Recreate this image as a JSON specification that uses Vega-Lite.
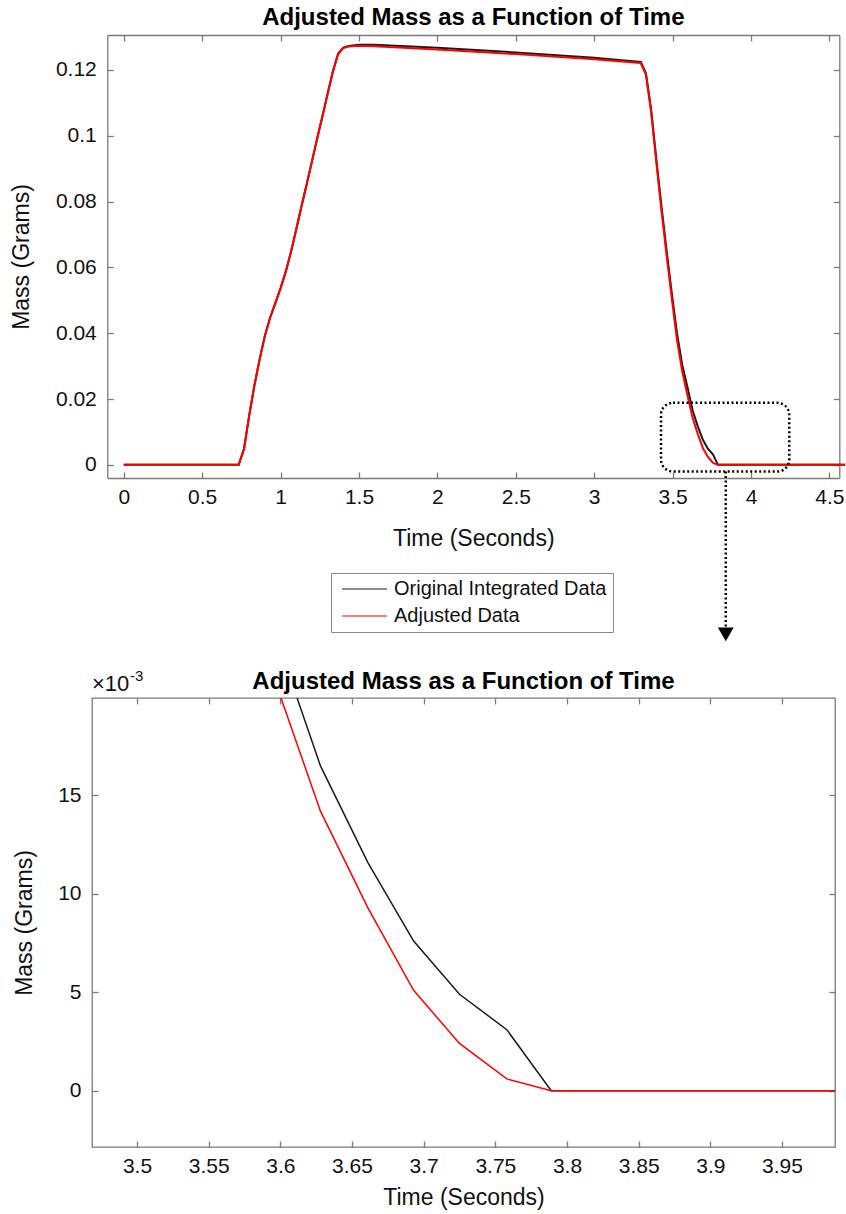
{
  "$schema": "https://vega.github.io/schema/vega-lite/v6.json",
  "background": "white",
  "padding": {"left": 10, "top": 6, "right": 0, "bottom": 0},
  "config": {
    "font": "Liberation Sans",
    "view": {"stroke": "#7a7a7a", "strokeWidth": 1.3},
    "axis": {
      "grid": false,
      "domain": false,
      "domainColor": "#7a7a7a",
      "domainWidth": 1.3,
      "tickColor": "#7a7a7a",
      "tickWidth": 1.3,
      "tickSize": -6,
      "labelFont": "Liberation Sans",
      "labelFontSize": 21,
      "labelColor": "#111111",
      "labelPadding": 17,
      "titleFont": "Liberation Sans",
      "titleFontSize": 23,
      "titleFontWeight": "normal",
      "titleColor": "#111111"
    },
    "axisX": {"labelPadding": 14},
    "title": {"font": "Liberation Sans", "fontSize": 24, "fontWeight": "bold", "color": "black", "offset": 4, "anchor": "middle"},
    "legend": {"labelFont": "Liberation Sans"}
  },
  "datasets": {
    "mass": [
      {"t": 0, "m": 0, "series": "Original Integrated Data"},
      {"t": 0.733, "m": 0, "series": "Original Integrated Data"},
      {"t": 0.767, "m": 0.0049, "series": "Original Integrated Data"},
      {"t": 0.8, "m": 0.015, "series": "Original Integrated Data"},
      {"t": 0.833, "m": 0.0241, "series": "Original Integrated Data"},
      {"t": 0.867, "m": 0.0322, "series": "Original Integrated Data"},
      {"t": 0.9, "m": 0.0392, "series": "Original Integrated Data"},
      {"t": 0.933, "m": 0.0447, "series": "Original Integrated Data"},
      {"t": 0.967, "m": 0.0492, "series": "Original Integrated Data"},
      {"t": 1.0, "m": 0.0537, "series": "Original Integrated Data"},
      {"t": 1.033, "m": 0.0587, "series": "Original Integrated Data"},
      {"t": 1.067, "m": 0.0648, "series": "Original Integrated Data"},
      {"t": 1.1, "m": 0.0716, "series": "Original Integrated Data"},
      {"t": 1.133, "m": 0.0785, "series": "Original Integrated Data"},
      {"t": 1.167, "m": 0.0853, "series": "Original Integrated Data"},
      {"t": 1.2, "m": 0.0922, "series": "Original Integrated Data"},
      {"t": 1.233, "m": 0.0991, "series": "Original Integrated Data"},
      {"t": 1.267, "m": 0.1059, "series": "Original Integrated Data"},
      {"t": 1.3, "m": 0.1128, "series": "Original Integrated Data"},
      {"t": 1.333, "m": 0.1195, "series": "Original Integrated Data"},
      {"t": 1.367, "m": 0.125, "series": "Original Integrated Data"},
      {"t": 1.4, "m": 0.1268, "series": "Original Integrated Data"},
      {"t": 1.433, "m": 0.1273, "series": "Original Integrated Data"},
      {"t": 1.5, "m": 0.1276, "series": "Original Integrated Data"},
      {"t": 1.6, "m": 0.1276, "series": "Original Integrated Data"},
      {"t": 2.0, "m": 0.1267, "series": "Original Integrated Data"},
      {"t": 2.5, "m": 0.1253, "series": "Original Integrated Data"},
      {"t": 3.0, "m": 0.1237, "series": "Original Integrated Data"},
      {"t": 3.297, "m": 0.1224, "series": "Original Integrated Data"},
      {"t": 3.33, "m": 0.119, "series": "Original Integrated Data"},
      {"t": 3.363, "m": 0.108, "series": "Original Integrated Data"},
      {"t": 3.396, "m": 0.093, "series": "Original Integrated Data"},
      {"t": 3.429, "m": 0.0785, "series": "Original Integrated Data"},
      {"t": 3.462, "m": 0.065, "series": "Original Integrated Data"},
      {"t": 3.495, "m": 0.052, "series": "Original Integrated Data"},
      {"t": 3.528, "m": 0.04, "series": "Original Integrated Data"},
      {"t": 3.561, "m": 0.0305, "series": "Original Integrated Data"},
      {"t": 3.594, "m": 0.0237, "series": "Original Integrated Data"},
      {"t": 3.628, "m": 0.0165, "series": "Original Integrated Data"},
      {"t": 3.661, "m": 0.0116, "series": "Original Integrated Data"},
      {"t": 3.693, "m": 0.0076, "series": "Original Integrated Data"},
      {"t": 3.725, "m": 0.0049, "series": "Original Integrated Data"},
      {"t": 3.758, "m": 0.0031, "series": "Original Integrated Data"},
      {"t": 3.789, "m": 0, "series": "Original Integrated Data"},
      {"t": 4.6, "m": 0, "series": "Original Integrated Data"},
      {"t": 0, "m": 0, "series": "Adjusted Data"},
      {"t": 0.733, "m": 0, "series": "Adjusted Data"},
      {"t": 0.767, "m": 0.0049, "series": "Adjusted Data"},
      {"t": 0.8, "m": 0.015, "series": "Adjusted Data"},
      {"t": 0.833, "m": 0.0241, "series": "Adjusted Data"},
      {"t": 0.867, "m": 0.0322, "series": "Adjusted Data"},
      {"t": 0.9, "m": 0.0392, "series": "Adjusted Data"},
      {"t": 0.933, "m": 0.0447, "series": "Adjusted Data"},
      {"t": 0.967, "m": 0.0492, "series": "Adjusted Data"},
      {"t": 1.0, "m": 0.0537, "series": "Adjusted Data"},
      {"t": 1.033, "m": 0.0587, "series": "Adjusted Data"},
      {"t": 1.067, "m": 0.0648, "series": "Adjusted Data"},
      {"t": 1.1, "m": 0.0716, "series": "Adjusted Data"},
      {"t": 1.133, "m": 0.0785, "series": "Adjusted Data"},
      {"t": 1.167, "m": 0.0853, "series": "Adjusted Data"},
      {"t": 1.2, "m": 0.0922, "series": "Adjusted Data"},
      {"t": 1.233, "m": 0.0991, "series": "Adjusted Data"},
      {"t": 1.267, "m": 0.1059, "series": "Adjusted Data"},
      {"t": 1.3, "m": 0.1127, "series": "Adjusted Data"},
      {"t": 1.333, "m": 0.1193, "series": "Adjusted Data"},
      {"t": 1.367, "m": 0.1248, "series": "Adjusted Data"},
      {"t": 1.4, "m": 0.1266, "series": "Adjusted Data"},
      {"t": 1.433, "m": 0.1271, "series": "Adjusted Data"},
      {"t": 1.5, "m": 0.1273, "series": "Adjusted Data"},
      {"t": 1.6, "m": 0.1272, "series": "Adjusted Data"},
      {"t": 2.0, "m": 0.1262, "series": "Adjusted Data"},
      {"t": 2.5, "m": 0.1248, "series": "Adjusted Data"},
      {"t": 3.0, "m": 0.1232, "series": "Adjusted Data"},
      {"t": 3.297, "m": 0.1221, "series": "Adjusted Data"},
      {"t": 3.33, "m": 0.1185, "series": "Adjusted Data"},
      {"t": 3.363, "m": 0.1072, "series": "Adjusted Data"},
      {"t": 3.396, "m": 0.092, "series": "Adjusted Data"},
      {"t": 3.429, "m": 0.0772, "series": "Adjusted Data"},
      {"t": 3.462, "m": 0.0635, "series": "Adjusted Data"},
      {"t": 3.495, "m": 0.0505, "series": "Adjusted Data"},
      {"t": 3.528, "m": 0.038, "series": "Adjusted Data"},
      {"t": 3.561, "m": 0.0285, "series": "Adjusted Data"},
      {"t": 3.594, "m": 0.0213, "series": "Adjusted Data"},
      {"t": 3.628, "m": 0.0142, "series": "Adjusted Data"},
      {"t": 3.661, "m": 0.0093, "series": "Adjusted Data"},
      {"t": 3.693, "m": 0.0051, "series": "Adjusted Data"},
      {"t": 3.725, "m": 0.0024, "series": "Adjusted Data"},
      {"t": 3.758, "m": 0.0006, "series": "Adjusted Data"},
      {"t": 3.789, "m": 0, "series": "Adjusted Data"},
      {"t": 4.6, "m": 0, "series": "Adjusted Data"}
    ],
    "zoombox": [
      {"t0": 3.426, "t1": 4.244, "m0": -0.00204, "m1": 0.01883, "tArrow": 3.839, "mArrowEnd": -0.0495, "mArrowTip": -0.0515}
    ],
    "exponent": [
      {"t": 3.4686, "m": 0.01995, "base": "×10", "power": "-3"}
    ]
  },
  "columns": 1,
  "spacing": 26,
  "resolve": {"legend": {"color": "independent"}},
  "concat": [
    {
      "width": 747.3,
      "height": 443,
      "view": {"stroke": null},
      "title": {"text": "Adjusted Mass as a Function of Time", "dx": 7.7},
      "data": {"name": "mass"},
      "resolve": {"axis": {"x": "independent", "y": "independent"}},
      "layer": [
        {
          "transform": [{"filter": "datum.series === 'Original Integrated Data'"}],
          "mark": {"type": "line", "strokeWidth": 2},
          "encoding": {
            "x": {"field": "t", "type": "quantitative",
              "scale": {"domain": [-0.105, 4.563], "range": [15.3, 747.3], "nice": false, "zero": false},
              "axis": {"orient": "bottom", "domain": true, "title": "Time (Seconds)", "values": [0, 0.5, 1, 1.5, 2, 2.5, 3, 3.5, 4, 4.5], "format": "~g", "titlePadding": 20}},
            "y": {"field": "m", "type": "quantitative",
              "scale": {"domain": [-0.004, 0.1306], "nice": false, "zero": false},
              "axis": {"orient": "left", "offset": -15.3, "domain": true, "title": "Mass (Grams)", "values": [0, 0.02, 0.04, 0.06, 0.08, 0.1, 0.12], "format": "~g", "titlePadding": 22}},
            "color": {"field": "series", "type": "nominal",
              "scale": {"domain": ["Original Integrated Data", "Adjusted Data"], "range": ["#1a1a1a", "#ff0000"]},
              "legend": {"orient": "none", "legendX": 239, "legendY": 538, "title": null, "symbolType": "M-1,0H8", "symbolSize": 100, "symbolStrokeWidth": 1.2, "labelFontSize": 20, "labelLimit": 0, "labelColor": "#111111", "labelOffset": 37, "padding": 6, "strokeColor": "#888888", "fillColor": "white", "rowPadding": 7}}
          }
        },
        {
          "transform": [{"filter": "datum.series === 'Adjusted Data'"}],
          "mark": {"type": "line", "strokeWidth": 2},
          "encoding": {
            "x": {"field": "t", "type": "quantitative",
              "axis": {"orient": "top", "domain": true, "title": null, "labels": false, "values": [0, 0.5, 1, 1.5, 2, 2.5, 3, 3.5, 4, 4.5]}},
            "y": {"field": "m", "type": "quantitative",
              "axis": {"orient": "right", "domain": true, "title": null, "labels": false, "values": [0, 0.02, 0.04, 0.06, 0.08, 0.1, 0.12]}},
            "color": {"field": "series", "type": "nominal"}
          }
        },
        {
          "data": {"name": "zoombox"},
          "mark": {"type": "rect", "fillOpacity": 0, "stroke": "black", "strokeWidth": 2.5, "strokeDash": [2, 2.5], "cornerRadius": 12},
          "encoding": {
            "x": {"field": "t0", "type": "quantitative", "axis": null},
            "x2": {"field": "t1"},
            "y": {"field": "m0", "type": "quantitative", "axis": null},
            "y2": {"field": "m1"}
          }
        },
        {
          "data": {"name": "zoombox"},
          "mark": {"type": "rule", "color": "black", "strokeWidth": 2.5, "strokeDash": [2, 2.5]},
          "encoding": {
            "x": {"field": "tArrow", "type": "quantitative", "axis": null},
            "y": {"field": "m0", "type": "quantitative", "axis": null},
            "y2": {"field": "mArrowEnd"}
          }
        },
        {
          "data": {"name": "zoombox"},
          "mark": {"type": "point", "shape": "triangle-down", "filled": true, "color": "black", "size": 250, "opacity": 1},
          "encoding": {
            "x": {"field": "tArrow", "type": "quantitative", "axis": null},
            "y": {"field": "mArrowTip", "type": "quantitative", "axis": null}
          }
        }
      ]
    },
    {
      "width": 743,
      "height": 449,
      "title": {"text": "Adjusted Mass as a Function of Time", "offset": -25},
      "data": {"name": "mass"},
      "resolve": {"axis": {"x": "independent", "y": "independent"}},
      "layer": [
        {
          "transform": [{"filter": "datum.series === 'Original Integrated Data'"}],
          "mark": {"type": "line", "strokeWidth": 1.5, "color": "#1a1a1a", "clip": true},
          "encoding": {
            "x": {"field": "t", "type": "quantitative",
              "scale": {"domain": [3.4686, 3.987], "nice": false, "zero": false},
              "axis": {"orient": "bottom", "title": "Time (Seconds)", "values": [3.5, 3.55, 3.6, 3.65, 3.7, 3.75, 3.8, 3.85, 3.9, 3.95], "format": "~g", "titlePadding": 10}},
            "y": {"field": "m", "type": "quantitative",
              "scale": {"domain": [-0.00286, 0.01995], "nice": false, "zero": false},
              "axis": {"orient": "left", "title": "Mass (Grams)", "values": [0, 0.005, 0.01, 0.015], "labelExpr": "format(datum.value * 1000, '~g')", "titlePadding": 21}}
          }
        },
        {
          "transform": [{"filter": "datum.series === 'Adjusted Data'"}],
          "mark": {"type": "line", "strokeWidth": 1.5, "color": "#ff0000", "clip": true},
          "encoding": {
            "x": {"field": "t", "type": "quantitative",
              "axis": {"orient": "top", "title": null, "labels": false, "values": [3.5, 3.55, 3.6, 3.65, 3.7, 3.75, 3.8, 3.85, 3.9, 3.95]}},
            "y": {"field": "m", "type": "quantitative",
              "axis": {"orient": "right", "title": null, "labels": false, "values": [0, 0.005, 0.01, 0.015]}}
          }
        },
        {
          "data": {"name": "exponent"},
          "mark": {"type": "text", "align": "left", "baseline": "alphabetic", "dy": -7, "fontSize": 22, "color": "#111111"},
          "encoding": {
            "x": {"field": "t", "type": "quantitative", "axis": null},
            "y": {"field": "m", "type": "quantitative", "axis": null},
            "text": {"field": "base"}
          }
        },
        {
          "data": {"name": "exponent"},
          "mark": {"type": "text", "align": "left", "baseline": "alphabetic", "dx": 38, "dy": -17, "fontSize": 15, "color": "#111111"},
          "encoding": {
            "x": {"field": "t", "type": "quantitative", "axis": null},
            "y": {"field": "m", "type": "quantitative", "axis": null},
            "text": {"field": "power"}
          }
        }
      ]
    }
  ]
}
